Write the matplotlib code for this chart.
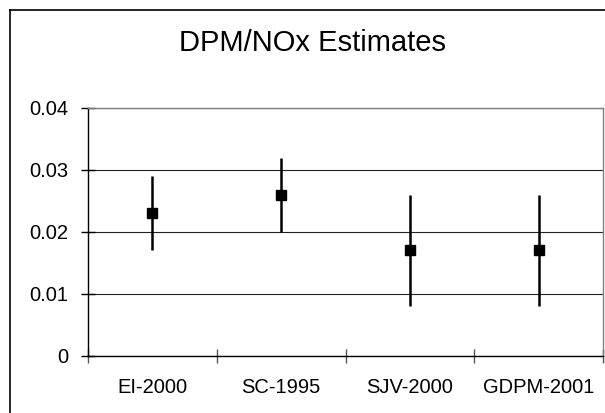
import matplotlib
matplotlib.use("Agg")
import matplotlib.pyplot as plt
from matplotlib.lines import Line2D
from matplotlib.ticker import FixedLocator, NullFormatter, FixedFormatter

plt.rcParams['font.family'] = ['Liberation Sans', 'DejaVu Sans']

# DPM/NOx ratio estimates with low/high ranges
sources = ['EI-2000', 'SC-1995', 'SJV-2000', 'GDPM-2001']
estimate = [0.023, 0.026, 0.017, 0.017]
low = [0.017, 0.020, 0.008, 0.008]
high = [0.029, 0.032, 0.026, 0.026]
yticks = [0, 0.01, 0.02, 0.03, 0.04]

fig = plt.figure(figsize=(6.05, 4.13), dpi=100)
ax = fig.add_axes([0.1455, 0.1392, 0.8512, 0.5993])

xpos = [i + 0.5 for i in range(len(sources))]
err_lo = [e - l for e, l in zip(estimate, low)]
err_hi = [h - e for e, h in zip(estimate, high)]
ax.errorbar(xpos, estimate, yerr=[err_lo, err_hi], fmt='s', color='black',
            markersize=7.2, elinewidth=1.8, capsize=0, zorder=3)

ax.set_xlim(0, len(sources))
ax.set_ylim(0, 0.04)
ax.set_yticks(yticks)
ax.set_yticklabels(['0' if v == 0 else f'{v:.2f}' for v in yticks])
ax.yaxis.grid(True, color='#222222', linewidth=0.8)
ax.set_axisbelow(True)

# category boundaries get the tick marks, names sit between them
ax.xaxis.set_major_locator(FixedLocator(range(len(sources) + 1)))
ax.xaxis.set_major_formatter(NullFormatter())
ax.xaxis.set_minor_locator(FixedLocator(xpos))
ax.xaxis.set_minor_formatter(FixedFormatter(sources))
ax.tick_params(axis='x', which='minor', length=0, pad=16, labelsize=14.5)
ax.tick_params(axis='x', which='major', direction='inout', length=10, width=1, color='#555555')
ax.tick_params(axis='y', direction='inout', length=10, width=1, pad=9, labelsize=14.5)

for side in ['top', 'right']:
    ax.spines[side].set_color('#808080')
    ax.spines[side].set_linewidth(1)
for side in ['left', 'bottom']:
    ax.spines[side].set_color('black')
    ax.spines[side].set_linewidth(1)

fig.text(0.517, 0.896, 'DPM/NOx Estimates', ha='center', va='center', fontsize=21)

# chart frame (left and top edges show)
fig.add_artist(Line2D([10 / 605, 10 / 605], [0, 1 - 9.5 / 413], color='black', linewidth=1.2))
fig.add_artist(Line2D([10 / 605, 1], [1 - 9.5 / 413, 1 - 9.5 / 413], color='black', linewidth=1.2))

fig.savefig('out.png', dpi=100)
